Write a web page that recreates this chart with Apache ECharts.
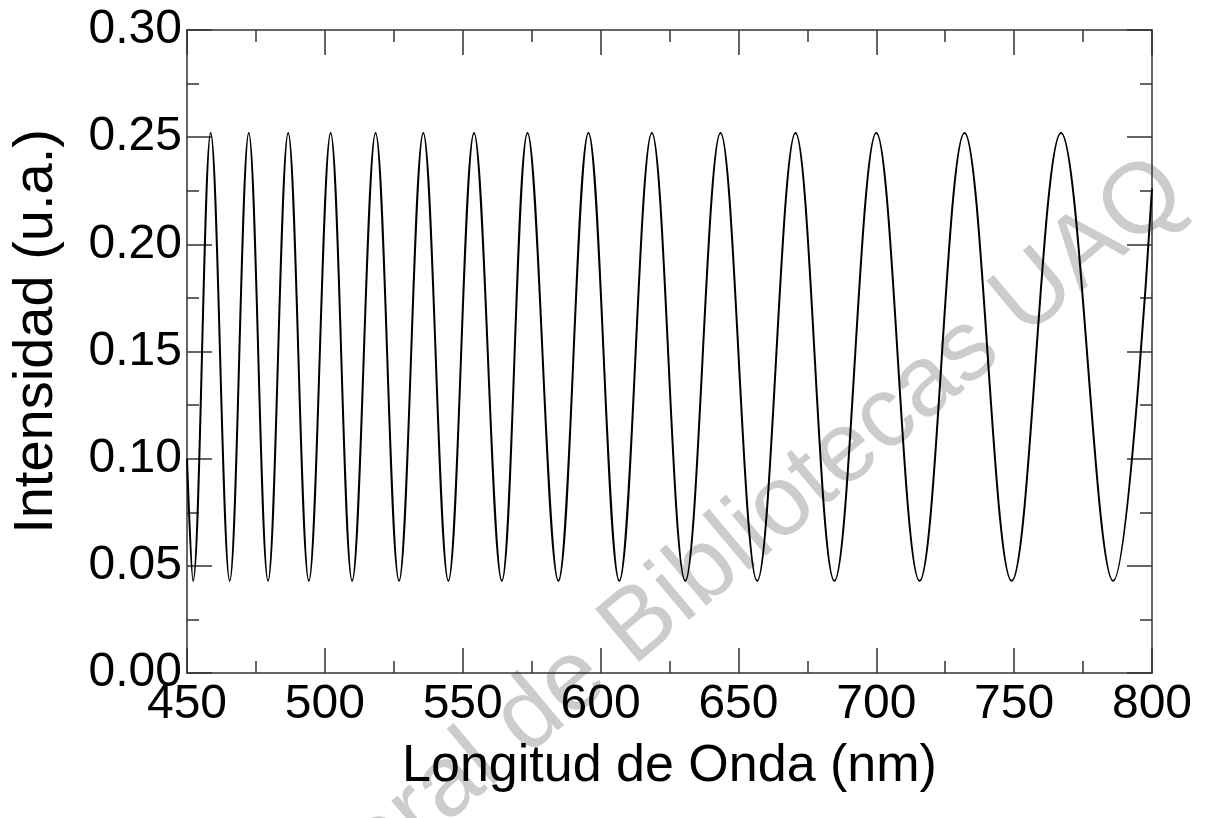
<!DOCTYPE html>
<html>
<head>
<meta charset="utf-8">
<script src="https://cdn.jsdelivr.net/npm/echarts@6/dist/echarts.min.js"></script>
<style>
  html, body { margin: 0; padding: 0; background: #ffffff; }
  #chart { width: 1209px; height: 818px; }
</style>
</head>
<body>
<div id="chart"></div>
<script>
// Interference spectrum: turning points of the reflected intensity (nm, u.a.)
const wavelength = [
  450.0, 452.2, 458.6, 465.5, 472.4, 479.4, 486.7, 494.2, 502.1, 509.9,
  518.4, 526.9, 535.7, 544.8, 554.1, 564.2, 573.5, 584.7, 595.6, 606.8,
  618.6, 630.7, 643.5, 656.8, 670.7, 684.8, 700.0, 715.7, 732.0, 749.1,
  767.0, 785.9, 800.0
];
const intensity = [
  0.100, 0.043, 0.252, 0.043, 0.252, 0.043, 0.252, 0.043, 0.252, 0.043,
  0.252, 0.043, 0.252, 0.043, 0.252, 0.043, 0.252, 0.043, 0.252, 0.043,
  0.252, 0.043, 0.252, 0.043, 0.252, 0.043, 0.252, 0.043, 0.252, 0.043,
  0.252, 0.043, 0.226
];
const xTicks = { min: 450, max: 800, step: 50 };
const yTicks = { min: 0, max: 0.30, step: 0.05 };
const xTitle = 'Longitud de Onda (nm)';
const yTitle = 'Intensidad (u.a.)';
const watermark = 'Dirección General de Bibliotecas UAQ';

const points = wavelength.map((w, i) => [w, intensity[i]]);

const FONT = 'Liberation Sans, Arial, Helvetica, sans-serif';
const frameLine = { show: true, onZero: false, lineStyle: { color: '#333', width: 1.5 } };
const majorTick = { show: true, inside: true, length: 25, lineStyle: { color: '#333', width: 1.5 } };
const minorTick = { show: true, splitNumber: 2, length: 12, lineStyle: { color: '#333', width: 1.5 } };

const chart = echarts.init(document.getElementById('chart'), null, { renderer: 'canvas' });
chart.setOption({
  backgroundColor: '#ffffff',
  animation: false,
  grid: { left: 187, right: 57, top: 30, bottom: 145, containLabel: false },
  graphic: [{
    type: 'text',
    z: -10,
    x: 1173, y: 178,
    rotation: 40 * Math.PI / 180,
    silent: true,
    style: {
      text: watermark,
      font: '100px ' + FONT,
      fill: '#cccccc',
      align: 'right',
      verticalAlign: 'middle'
    }
  }],
  xAxis: [{
    type: 'value', position: 'bottom',
    min: xTicks.min, max: xTicks.max, interval: xTicks.step,
    name: xTitle, nameLocation: 'middle', nameGap: 68,
    nameTextStyle: { fontFamily: FONT, fontSize: 52, color: '#000' },
    axisLine: frameLine, axisTick: majorTick, minorTick: minorTick,
    axisLabel: { fontFamily: FONT, fontSize: 48, color: '#000', margin: 8 },
    splitLine: { show: false }
  }, {
    type: 'value', position: 'top',
    min: xTicks.min, max: xTicks.max, interval: xTicks.step,
    axisLine: frameLine, axisTick: majorTick, minorTick: minorTick,
    axisLabel: { show: false }, splitLine: { show: false }
  }],
  yAxis: [{
    type: 'value', position: 'left',
    min: yTicks.min, max: yTicks.max, interval: yTicks.step,
    name: yTitle, nameLocation: 'middle', nameGap: 122, nameRotate: 90,
    nameTextStyle: { fontFamily: FONT, fontSize: 56, color: '#000', padding: [0, 0, 0, 40] },
    axisLine: frameLine, axisTick: majorTick, minorTick: minorTick,
    axisLabel: { fontFamily: FONT, fontSize: 48, color: '#000', margin: 5,
                 formatter: v => v.toFixed(2) },
    splitLine: { show: false }
  }, {
    type: 'value', position: 'right',
    min: yTicks.min, max: yTicks.max, interval: yTicks.step,
    axisLine: frameLine, axisTick: majorTick, minorTick: minorTick,
    axisLabel: { show: false }, splitLine: { show: false }
  }],
  series: [{
    type: 'line',
    data: points,
    xAxisIndex: 0, yAxisIndex: 0,
    smooth: 0.36,
    showSymbol: false,
    clip: true,
    lineStyle: { color: '#000', width: 2 }
  }]
});
</script>
</body>
</html>
